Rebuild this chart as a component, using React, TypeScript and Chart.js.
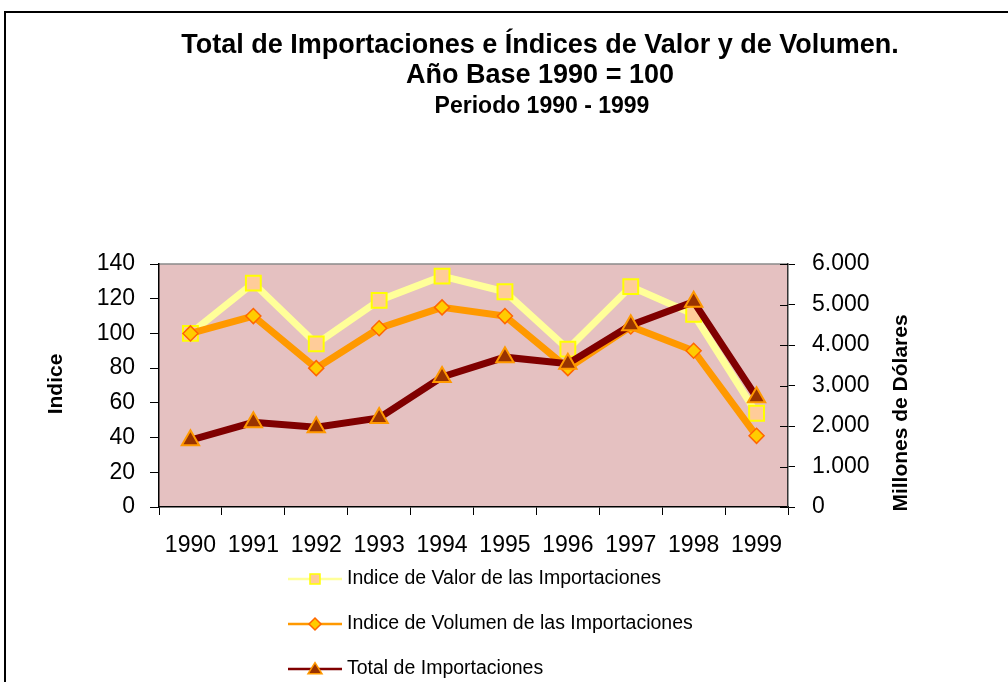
import React, { useEffect, useRef } from "react";
import { Chart, registerables } from "chart.js";

Chart.register(...registerables);

const years = ["1990", "1991", "1992", "1993", "1994", "1995", "1996", "1997", "1998", "1999"];
const indiceValor = [100, 129, 94, 119, 133, 124, 91, 127, 111, 54];
const indiceVolumen = [100, 110, 80, 103, 115, 110, 80, 104, 90, 41];
const totalImportaciones = [1650, 2090, 1970, 2200, 3210, 3700, 3540, 4490, 5070, 2710];

const titleLines = ["Total de Importaciones e Índices de Valor y de Volumen.", "Año Base 1990 = 100"];
const subtitleText = "Periodo 1990 - 1999";
const leftAxisTitle = "Indice";
const rightAxisTitle = "Millones de Dólares";
const seriesNames = [
  "Indice de Valor de las Importaciones",
  "Indice de Volumen de las Importaciones",
  "Total de Importaciones",
];

const FONT = '"Liberation Sans", Arial, sans-serif';

function fmtThousands(v: number): string {
  return String(v).replace(/\B(?=(\d{3})+(?!\d))/g, ".");
}

function drawMarker(ctx: CanvasRenderingContext2D, style: string, x: number, y: number, s: number, fill: string, stroke: string, lw: number) {
  ctx.save();
  ctx.beginPath();
  if (style === "rect") {
    ctx.rect(x - s, y - s, 2 * s, 2 * s);
  } else if (style === "rectRot") {
    ctx.moveTo(x - s, y);
    ctx.lineTo(x, y - s);
    ctx.lineTo(x + s, y);
    ctx.lineTo(x, y + s);
    ctx.closePath();
  } else {
    const h = s * 0.9;
    ctx.moveTo(x, y - h);
    ctx.lineTo(x + s, y + h * 0.75);
    ctx.lineTo(x - s, y + h * 0.75);
    ctx.closePath();
  }
  ctx.fillStyle = fill;
  ctx.fill();
  ctx.lineWidth = lw;
  ctx.strokeStyle = stroke;
  ctx.stroke();
  ctx.restore();
}

const decorPlugin = {
  id: "decor",
  beforeDraw(chart: any) {
    const { ctx, chartArea } = chart;
    const { left, top, right, bottom } = chartArea;
    ctx.save();
    ctx.fillStyle = "#e5c1c1";
    ctx.fillRect(left, top, right - left, bottom - top);
    ctx.strokeStyle = "#8a8a8a";
    ctx.lineWidth = 1.5;
    ctx.beginPath();
    ctx.moveTo(left, top);
    ctx.lineTo(right, top);
    ctx.stroke();
    ctx.restore();
  },
  afterDraw(chart: any) {
    const { ctx, chartArea } = chart;
    ctx.save();
    // Titles
    ctx.fillStyle = "#000";
    ctx.textAlign = "center";
    ctx.textBaseline = "middle";
    ctx.font = `bold 27px ${FONT}`;
    ctx.fillText(titleLines[0], 540, 46);
    ctx.fillText(titleLines[1], 540, 76);
    ctx.font = `bold 23px ${FONT}`;
    ctx.fillText(subtitleText, 542, 107);

    // Axis titles
    ctx.font = `bold 21px ${FONT}`;
    ctx.save();
    ctx.translate(56, 384);
    ctx.rotate(-Math.PI / 2);
    ctx.fillText(leftAxisTitle, 0, 0);
    ctx.restore();
    ctx.save();
    ctx.translate(901, 413);
    ctx.rotate(-Math.PI / 2);
    ctx.fillText(rightAxisTitle, 0, 0);
    ctx.restore();

    // inner part of right-axis tick marks
    const y1 = chart.scales.y1;
    ctx.strokeStyle = "#000";
    ctx.lineWidth = 1;
    y1.ticks.forEach((t: any) => {
      const py = Math.round(y1.getPixelForValue(t.value)) + 0.5;
      ctx.beginPath();
      ctx.moveTo(chartArea.right - 8, py);
      ctx.lineTo(chartArea.right, py);
      ctx.stroke();
    });

    // Legend
    const rows = [579, 624, 669];
    const ds = chart.data.datasets;
    ds.forEach((d: any, i: number) => {
      const y = rows[i];
      ctx.strokeStyle = d.borderColor;
      ctx.lineWidth = 2.5;
      ctx.beginPath();
      ctx.moveTo(288, y);
      ctx.lineTo(342, y);
      ctx.stroke();
      const s = d.pointStyle === "rect" ? 5 : d.pointStyle === "rectRot" ? 6 : 7;
      drawMarker(ctx, d.pointStyle, 315, y, s, d.pointBackgroundColor, d.pointBorderColor, 1.5);
      ctx.fillStyle = "#000";
      ctx.textAlign = "left";
      ctx.textBaseline = "middle";
      ctx.font = `19.5px ${FONT}`;
      ctx.fillText(seriesNames[i], 347, y);
    });
    ctx.restore();
  },
};

export default function App() {
  const canvasRef = useRef<HTMLCanvasElement | null>(null);

  useEffect(() => {
    if (!canvasRef.current) return;
    Chart.defaults.font.family = FONT;
    const chart = new Chart(canvasRef.current, {
      type: "line",
      data: {
        labels: years,
        datasets: [
          {
            label: seriesNames[0],
            data: indiceValor,
            yAxisID: "y",
            borderColor: "#ffff99",
            borderWidth: 7,
            pointStyle: "rect",
            pointRadius: 10.5,
            pointBackgroundColor: "#ffcc99",
            pointBorderColor: "#ffff00",
            pointBorderWidth: 2,
            tension: 0,
            order: 3,
          },
          {
            label: seriesNames[1],
            data: indiceVolumen,
            yAxisID: "y",
            borderColor: "#ff9900",
            borderWidth: 7,
            pointStyle: "rectRot",
            pointRadius: 7.5,
            pointBackgroundColor: "#ffcc00",
            pointBorderColor: "#ff6600",
            pointBorderWidth: 1.5,
            tension: 0,
            order: 2,
          },
          {
            label: seriesNames[2],
            data: totalImportaciones,
            yAxisID: "y1",
            borderColor: "#800000",
            borderWidth: 7,
            pointStyle: "triangle",
            pointRadius: 10,
            pointBackgroundColor: "#993300",
            pointBorderColor: "#ff9900",
            pointBorderWidth: 2,
            tension: 0,
            order: 1,
          },
        ],
      },
      options: {
        responsive: false,
        animation: false,
        layout: { padding: { top: 264, left: 0, right: 0, bottom: 115 } },
        plugins: {
          legend: { display: false },
          title: { display: false },
          tooltip: { enabled: false },
        },
        scales: {
          x: {
            type: "category",
            offset: true,
            afterFit: (s: any) => {
              s.height = 60;
            },
            grid: { offset: true, drawOnChartArea: false, drawTicks: true, tickLength: 8, color: "#000" },
            border: { color: "#000", width: 1.5 },
            ticks: { color: "#000", font: { size: 23, family: FONT }, padding: 17, maxRotation: 0, autoSkip: false },
          },
          y: {
            position: "left",
            min: 0,
            max: 140,
            afterFit: (s: any) => {
              s.width = 159;
            },
            grid: { drawOnChartArea: false, drawTicks: true, tickLength: 9, color: "#000" },
            border: { color: "#000", width: 1.5 },
            ticks: { stepSize: 20, color: "#000", font: { size: 23, family: FONT }, padding: 15 },
          },
          y1: {
            position: "right",
            min: 0,
            max: 6000,
            afterFit: (s: any) => {
              s.width = 220;
            },
            grid: { drawOnChartArea: false, drawTicks: true, tickLength: 7, color: "#000" },
            border: { color: "#333", width: 1.5 },
            ticks: {
              stepSize: 1000,
              color: "#000",
              font: { size: 23, family: FONT },
              padding: 17,
              callback: (v: any) => fmtThousands(Number(v)),
            },
          },
        },
      },
      plugins: [decorPlugin],
    });
    return () => chart.destroy();
  }, []);

  return (
    <div style={{ position: "fixed", left: 0, top: 0, width: 1008, height: 682, overflow: "hidden", background: "#fff" }}>
      <div
        style={{
          position: "absolute",
          left: 4,
          top: 11,
          width: 1100,
          height: 800,
          border: "2px solid #000",
          boxSizing: "border-box",
        }}
      />
      <canvas ref={canvasRef} width={1008} height={682} style={{ position: "absolute", left: 0, top: 0 }} />
    </div>
  );
}
